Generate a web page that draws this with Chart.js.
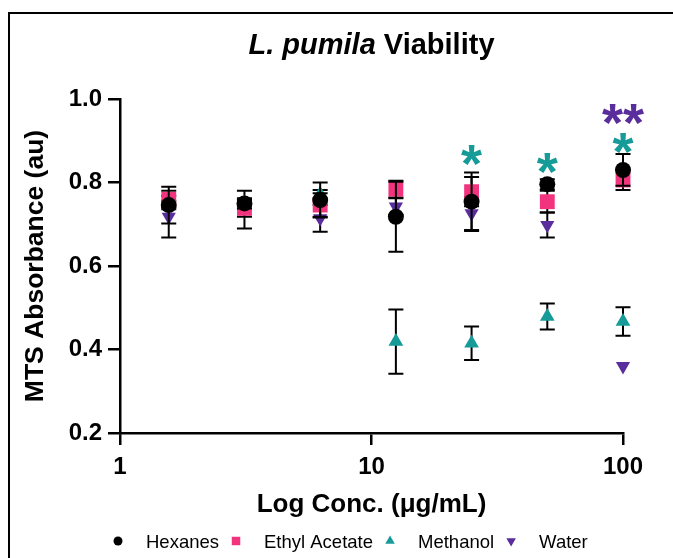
<!DOCTYPE html>
<html><head><meta charset="utf-8">
<script src="https://cdn.jsdelivr.net/npm/chart.js@4/dist/chart.umd.min.js"></script>
<style>html,body{margin:0;padding:0;background:#fff;}canvas{display:block;}</style>
</head><body>
<canvas id="c" width="673" height="558"></canvas>
<script>
// ---- data ----
const concentrations = [1.5625, 3.125, 6.25, 12.5, 25, 50, 100];
const seriesNames = ['Hexanes', 'Ethyl Acetate', 'Methanol', 'Water'];
const hexanes    = [0.746, 0.750, 0.758, 0.718, 0.754, 0.796, 0.830];
const hexanesSD  = [0.044, 0.012, 0.042, 0.084, 0.070, 0.012, 0.038];
const ethyl      = [0.760, 0.738, 0.746, 0.784, 0.778, 0.754, 0.806];
const ethylSD    = [0.020, 0.020, 0.028, 0.020, 0.035, 0.026, 0.024];
const methanol   = [0.746, 0.750, 0.772, 0.419, 0.415, 0.479, 0.467];
const methanolSD = [0.010, 0.010, 0.010, 0.077, 0.040, 0.031, 0.034];
const water      = [0.718, 0.735, 0.714, 0.742, 0.726, 0.698, 0.360];
const waterSD    = [0.050, 0.045, 0.032, 0.020, 0.040, 0.030, 0.000];
const xTickValues = [1, 10, 100];
const xTickLabels = ['1', '10', '100'];
const yTickValues = [0.2, 0.4, 0.6, 0.8, 1.0];
const yTickLabels = ['0.2', '0.4', '0.6', '0.8', '1.0'];
const sigConc   = [25, 50, 100, 100];
const sigValue  = [0.862, 0.842, 0.890, 0.960];
const sigText   = ['*', '*', '*', '**'];
const sigSeries = [2, 2, 2, 3];

// ---- styles ----
const FONT = '"Liberation Sans", Arial, Helvetica, sans-serif';
const colors = ['#000000', '#F2347E', '#179B98', '#5A2D9C'];
const styles = ['circle', 'rect', 'triangle', 'triangle'];
const rotations = [0, 0, 0, 180];
const radii = [8, 10.5, 8.5, 8.2];
const legendRadii = [4.5, 6, 5.5, 5.5];
const values = [hexanes, ethyl, methanol, water];
const sds = [hexanesSD, ethylSD, methanolSD, waterSD];

const datasets = seriesNames.map((name, k) => ({
  label: name,
  data: concentrations.map((c, i) => ({ x: c, y: values[k][i] })),
  sd: sds[k],
  showLine: false,
  pointStyle: styles[k],
  pointRotation: rotations[k],
  pointRadius: radii[k],
  pointHoverRadius: radii[k],
  backgroundColor: colors[k],
  borderColor: colors[k],
  pointBorderWidth: 0,
  clip: false
}));

const framePlugin = {
  id: 'frame',
  beforeDraw(chart) {
    const ctx = chart.ctx;
    ctx.save();
    ctx.fillStyle = '#fff';
    ctx.fillRect(0, 0, chart.width, chart.height);
    ctx.fillStyle = '#000';
    ctx.fillRect(8, 12, chart.width - 8, 2);
    ctx.fillRect(8, 12, 2, chart.height - 12);
    ctx.restore();
  }
};

const errorBarPlugin = {
  id: 'errorBars',
  beforeDatasetDraw(chart, args) {
    const ds = chart.data.datasets[args.index];
    if (!ds.sd) return;
    const ctx = chart.ctx, xS = chart.scales.x, yS = chart.scales.y;
    ctx.save();
    ctx.strokeStyle = '#000';
    ctx.lineWidth = 2;
    ds.data.forEach((p, i) => {
      const e = ds.sd[i];
      if (!e) return;
      const x = xS.getPixelForValue(p.x);
      const yt = yS.getPixelForValue(p.y + e);
      const yb = yS.getPixelForValue(p.y - e);
      ctx.beginPath();
      ctx.moveTo(x, yt); ctx.lineTo(x, yb);
      ctx.moveTo(x - 7.5, yt); ctx.lineTo(x + 7.5, yt);
      ctx.moveTo(x - 7.5, yb); ctx.lineTo(x + 7.5, yb);
      ctx.stroke();
    });
    ctx.restore();
  }
};

const textPlugin = {
  id: 'texts',
  afterDraw(chart) {
    const ctx = chart.ctx, xS = chart.scales.x, yS = chart.scales.y;
    const ca = chart.chartArea;
    ctx.save();
    // title
    const cx = (ca.left + ca.right) / 2;
    const f1 = 'italic bold 29px ' + FONT, f2 = 'bold 29px ' + FONT;
    const p1 = 'L. pumila', p2 = ' Viability';
    ctx.font = f1; const w1 = ctx.measureText(p1).width;
    ctx.font = f2; const w2 = ctx.measureText(p2).width;
    const sx = cx - (w1 + w2) / 2;
    ctx.fillStyle = '#000';
    ctx.textBaseline = 'alphabetic';
    ctx.textAlign = 'left';
    ctx.font = f1; ctx.fillText(p1, sx, 54);
    ctx.font = f2; ctx.fillText(p2, sx + w1, 54);
    // significance asterisks
    const fs = 54;
    ctx.font = 'bold ' + fs + 'px ' + FONT;
    ctx.textAlign = 'center';
    sigText.forEach((t, i) => {
      const x = xS.getPixelForValue(sigConc[i]);
      const y = yS.getPixelForValue(sigValue[i]);
      ctx.fillStyle = colors[sigSeries[i]];
      ctx.fillText(t, x, y + fs * 0.465);
    });
    // legend
    ctx.font = '18.5px ' + FONT;
    ctx.textAlign = 'left';
    const widths = seriesNames.map(n => ctx.measureText(n).width);
    let x = ca.left - 2;
    const ly = 541;
    seriesNames.forEach((n, k) => {
      ctx.fillStyle = colors[k];
      ctx.strokeStyle = colors[k];
      Chart.helpers.drawPoint(ctx, { pointStyle: styles[k], rotation: rotations[k], radius: legendRadii[k], borderWidth: 0 }, x, ly);
      ctx.fillStyle = '#000';
      ctx.fillText(n, x + 28, 547.5);
      x += 28 + widths[k] + 17;
    });
    ctx.restore();
  }
};

new Chart(document.getElementById('c'), {
  type: 'scatter',
  data: { datasets },
  plugins: [framePlugin, errorBarPlugin, textPlugin],
  options: {
    responsive: false,
    devicePixelRatio: 1,
    animation: false,
    layout: { padding: { top: 99, right: 50, bottom: 0, left: 0 } },
    plugins: { legend: { display: false }, tooltip: { enabled: false }, title: { display: false } },
    scales: {
      x: {
        type: 'logarithmic',
        position: 'bottom',
        min: 1, max: 100,
        afterBuildTicks(s) { s.ticks = xTickValues.map(v => ({ value: v })); },
        afterFit(s) { s.height = 125; },
        ticks: {
          autoSkip: false, maxRotation: 0, color: '#000', padding: 8,
          font: { family: FONT, size: 24, weight: 'bold' },
          callback: (v, i) => xTickLabels[i]
        },
        grid: { drawOnChartArea: false, drawTicks: true, tickLength: 12, color: '#000', lineWidth: 2.5 },
        border: { display: true, color: '#000', width: 2.5 },
        title: {
          display: true, text: 'Log Conc. (\u03bcg/mL)', color: '#000',
          font: { family: FONT, size: 26, weight: 'bold' },
          padding: { top: 0, bottom: 38 }
        }
      },
      y: {
        min: 0.2, max: 1.0,
        afterBuildTicks(s) { s.ticks = yTickValues.map(v => ({ value: v })); },
        afterFit(s) { s.width = 120; },
        ticks: {
          color: '#000', padding: 6,
          font: { family: FONT, size: 24, weight: 'bold' },
          callback: (v, i) => yTickLabels[i]
        },
        grid: { drawOnChartArea: false, drawTicks: true, tickLength: 12, color: '#000', lineWidth: 2.5 },
        border: { display: true, color: '#000', width: 2.5 },
        title: {
          display: true, text: 'MTS Absorbance (au)', color: '#000',
          font: { family: FONT, size: 26.5, weight: 'bold' },
          padding: { top: 20, bottom: 0 }
        }
      }
    }
  }
});
</script>
</body></html>
